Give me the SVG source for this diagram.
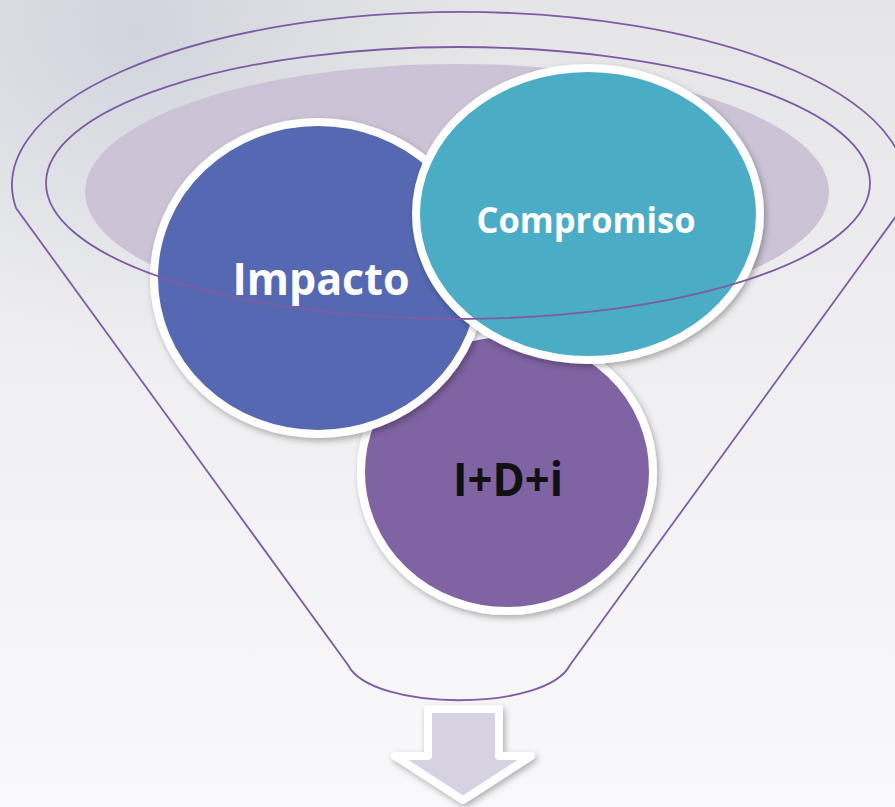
<svg xmlns="http://www.w3.org/2000/svg" width="895" height="807" viewBox="0 0 895 807">
<defs>
<linearGradient id="bg" x1="0" y1="0" x2="0" y2="1">
<stop offset="0" stop-color="#E5E5E7"/>
<stop offset="0.45" stop-color="#EFEFF1"/>
<stop offset="1" stop-color="#F9F9FC"/>
</linearGradient>
<radialGradient id="tex" cx="0.15" cy="0.04" r="0.4">
<stop offset="0" stop-color="#C3C8D5" stop-opacity="0.6"/>
<stop offset="1" stop-color="#CDD1DB" stop-opacity="0"/>
</radialGradient>
<filter id="sh" x="-10%" y="-10%" width="120%" height="125%">
<feDropShadow dx="2" dy="3" stdDeviation="3" flood-color="#000" flood-opacity="0.3"/>
</filter>
<style>
.fun{fill:none;stroke:#7D5CA5;stroke-width:1.8}
.node{stroke:#FFFFFF;stroke-width:8;filter:url(#sh)}
.lbl{font-family:"Open Sans","Liberation Sans",sans-serif;font-weight:bold;text-anchor:middle}
</style>
</defs>
<rect width="895" height="807" fill="url(#bg)"/>
<rect width="895" height="807" fill="url(#tex)"/>
<g id="funnel">
<path class="fun" d="M16,208 A447,173 0 1 1 902,208 L570,665 C546,712 372,712 348,665 Z"/>
<ellipse cx="457" cy="192" rx="372" ry="128" fill="#CCC4D6"/>
</g>
<g id="node-idi">
<ellipse class="node" cx="507" cy="472" rx="146" ry="139" fill="#8064A2"/>
<text class="lbl" x="508" y="496" font-size="46" fill="#111111" textLength="110" lengthAdjust="spacingAndGlyphs">I+D+i</text>
</g>
<g id="node-impacto">
<ellipse class="node" cx="318" cy="278" rx="164" ry="156" fill="#5567B1"/>
<text class="lbl" x="321" y="295" font-size="45" fill="#FFFFFF" textLength="177" lengthAdjust="spacingAndGlyphs">Impacto</text>
</g>
<g id="node-compromiso">
<ellipse class="node" cx="588" cy="214" rx="172" ry="146" fill="#4BACC6"/>
<text class="lbl" x="586" y="233" font-size="36.5" fill="#FFFFFF" textLength="219" lengthAdjust="spacingAndGlyphs">Compromiso</text>
</g>
<g id="funnel-rim">
<ellipse class="fun" cx="458" cy="183" rx="412" ry="136"/>
</g>
<g id="connectors">
<path d="M428,709 L499,709 L499,756 L531,756 L463,800 L395,756 L428,756 Z" fill="#D6D2E2" stroke="#FFFFFF" stroke-width="8" stroke-linejoin="round" filter="url(#sh)"/>
</g>
</svg>
